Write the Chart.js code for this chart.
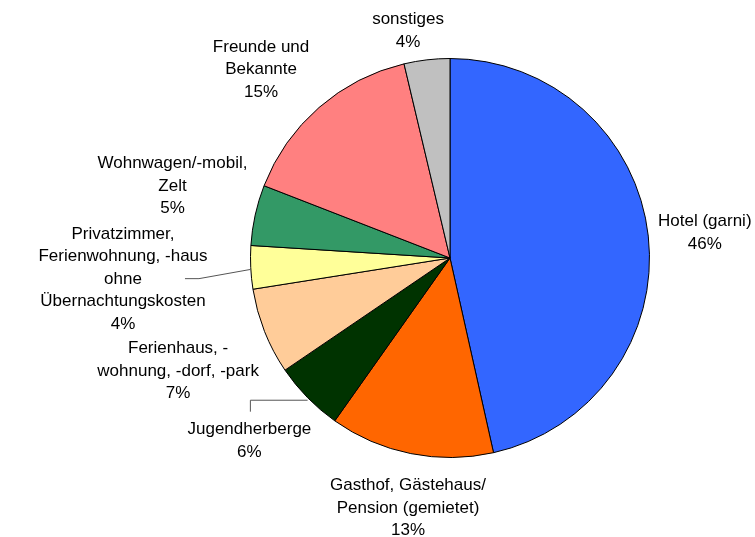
<!DOCTYPE html>
<html>
<head>
<meta charset="utf-8">
<script src="https://cdn.jsdelivr.net/npm/chart.js@4"></script>
<style>
  html, body { margin: 0; padding: 0; background: #fff; }
  #wrap { width: 755px; height: 537px; }
</style>
</head>
<body>
<div id="wrap"><canvas id="pieChart" width="755" height="537"></canvas></div>
<script>
'use strict'

// categories, clockwise from 12 o'clock
var categories = [
  ['Hotel (garni)'],
  ['Gasthof, Gästehaus/', 'Pension (gemietet)'],
  ['Jugendherberge'],
  ['Ferienhaus, -', 'wohnung, -dorf, -park'],
  ['Privatzimmer,', 'Ferienwohnung, -haus', 'ohne', 'Übernachtungskosten'],
  ['Wohnwagen/-mobil,', 'Zelt'],
  ['Freunde und', 'Bekannte'],
  ['sonstiges']
];
var shares = [46.5, 13.3, 5.7, 7.0, 3.5, 4.9, 15.4, 3.7];
var percentLabels = ['46%', '13%', '6%', '7%', '4%', '5%', '15%', '4%'];
var colors = ['#3366FF', '#FF6600', '#003300', '#FFCC99', '#FFFF99', '#339966', '#FF8080', '#C0C0C0'];

// label placement: [angle shift in degrees, distance from centre]
var labelPlace = [[0.7, 256], [-1.8, 253.5], [2.1, 271.5], [-1, 294.5], [-1, 327.7], [2.1, 286.7], [-4, 267], [-3.8, 231]];

var outsideLabels = {
  id: 'outsideLabels',
  afterDraw: function(chart) {
    var ctx = chart.ctx;
    var arcs = chart.getDatasetMeta(0).data;
    ctx.save();
    ctx.font = '17px "Liberation Sans", Arial, sans-serif';
    ctx.fillStyle = '#000';
    ctx.textAlign = 'center';
    ctx.textBaseline = 'middle';
    var lh = 22.5;
    arcs.forEach(function(arc, i) {
      var mid = (arc.startAngle + arc.endAngle) / 2;
      var a = mid + labelPlace[i][0] * Math.PI / 180;
      var d = labelPlace[i][1];
      var cx = arc.x + Math.cos(a) * d;
      var cy = arc.y + Math.sin(a) * d;
      var lines = categories[i].concat([percentLabels[i]]);
      var top = cy - (lines.length - 1) * lh / 2;
      lines.forEach(function(t, k) {
        ctx.fillText(t, cx, top + k * lh);
      });

      // leader lines for the two thin slices on the left
      var sx = arc.x + Math.cos(mid) * arc.outerRadius;
      var sy = arc.y + Math.sin(mid) * arc.outerRadius;
      ctx.strokeStyle = '#555';
      ctx.lineWidth = 1;
      if (i === 4) {
        ctx.beginPath();
        ctx.moveTo(sx, sy + 2);
        ctx.lineTo(cx + 76, cy - 0.5);
        ctx.lineTo(cx + 62, cy - 0.5);
        ctx.stroke();
      }
      if (i === 2) {
        ctx.beginPath();
        ctx.moveTo(sx, sy + 2.5);
        ctx.lineTo(cx + 1, sy + 2.5);
        ctx.lineTo(cx + 1, top - 18);
        ctx.stroke();
      }
    });
    ctx.restore();
  }
};

var ctx = document.getElementById('pieChart').getContext('2d');
var chart = new Chart(ctx, {
  type: 'pie',
  data: {
    labels: categories.map(function(c) { return c.join(' '); }),
    datasets: [{
      data: shares,
      backgroundColor: colors,
      borderColor: '#000',
      borderWidth: 1
    }]
  },
  options: {
    responsive: false,
    animation: false,
    layout: { padding: { left: 250, right: 105, top: 58, bottom: 79 } },
    plugins: {
      legend: { display: false },
      tooltip: { enabled: false }
    }
  },
  plugins: [outsideLabels]
});
</script>
</body>
</html>
